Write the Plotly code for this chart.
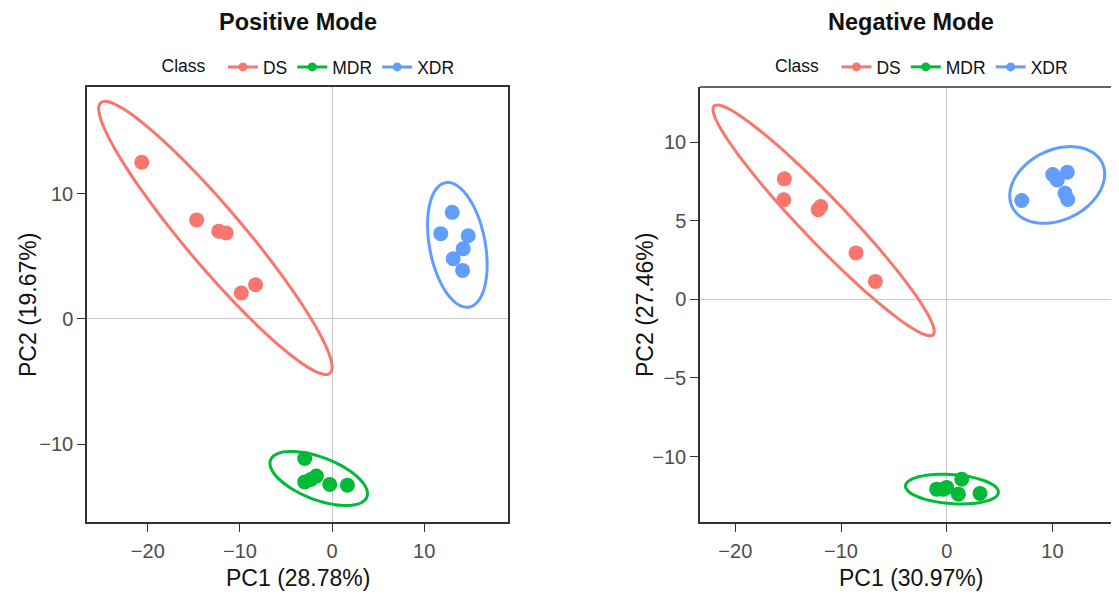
import numpy as np
import plotly.graph_objects as go

# ---------------- data ----------------
classes = ["DS", "MDR", "XDR"]
colors = {"DS": "#F8766D", "MDR": "#00BA38", "XDR": "#619CFF"}

pos_title = "Positive Mode"
pos_xlabel = "PC1 (28.78%)"
pos_ylabel = "PC2 (19.67%)"
pos_DS_pc1 = [-20.65, -14.7, -12.3, -11.5, -9.85, -8.3]
pos_DS_pc2 = [12.5, 7.9, 7.0, 6.85, 2.07, 2.73]
pos_MDR_pc1 = [-2.97, -2.97, -1.7, -2.3, -0.25, 1.67]
pos_MDR_pc2 = [-11.13, -13.0, -12.54, -12.8, -13.2, -13.26]
pos_XDR_pc1 = [13.04, 11.8, 14.78, 14.24, 13.15, 14.17]
pos_XDR_pc2 = [8.5, 6.8, 6.64, 5.6, 4.8, 3.87]

neg_title = "Negative Mode"
neg_xlabel = "PC1 (30.97%)"
neg_ylabel = "PC2 (27.46%)"
neg_DS_pc1 = [-15.36, -15.42, -12.15, -11.92, -8.58, -6.75]
neg_DS_pc2 = [7.66, 6.33, 5.7, 5.9, 2.95, 1.14]
neg_MDR_pc1 = [-0.95, -0.32, 0.0, 1.42, 1.1, 3.15]
neg_MDR_pc2 = [-12.07, -12.07, -11.96, -11.44, -12.39, -12.34]
neg_XDR_pc1 = [7.1, 10.03, 11.41, 10.46, 11.19, 11.45]
neg_XDR_pc2 = [6.28, 7.93, 8.08, 7.59, 6.75, 6.35]

pos_data = {"DS": (pos_DS_pc1, pos_DS_pc2), "MDR": (pos_MDR_pc1, pos_MDR_pc2),
            "XDR": (pos_XDR_pc1, pos_XDR_pc2)}
neg_data = {"DS": (neg_DS_pc1, neg_DS_pc2), "MDR": (neg_MDR_pc1, neg_MDR_pc2),
            "XDR": (neg_XDR_pc1, neg_XDR_pc2)}


# ---------------- stat_ellipse (type = "t", level = 0.95) ----------------
def cov_trob(x, nu=5, maxit=25, tol=0.01):
    n, p = x.shape
    wt = np.ones(n)
    loc = x.mean(0)
    w = np.sqrt(wt)
    X = x - loc
    for _ in range(maxit):
        w0 = w
        X = x - loc
        _, d, vt = np.linalg.svd(np.sqrt(wt / wt.sum())[:, None] * X, full_matrices=False)
        wX = X @ vt.T @ np.diag(1.0 / d)
        Q = (wX ** 2).sum(1)
        w = (wt * (nu + p)) / (nu + Q)
        loc = (w[:, None] * x).sum(0) / w.sum()
        if np.all(np.abs(w - w0) < tol):
            break
    sw = np.sqrt(w)[:, None] * X
    cov = sw.T @ sw / wt.sum()
    return cov, loc


def ellipse(xs, ys, level=0.95, segments=51):
    pts = np.column_stack([xs, ys]).astype(float)
    n = len(pts)
    cov, center = cov_trob(pts)
    dfd = n - 1
    qf = dfd / 2.0 * ((1 - level) ** (-2.0 / dfd) - 1)  # F quantile, dfn = 2
    radius = np.sqrt(2 * qf)
    U = np.linalg.cholesky(cov).T
    ang = np.arange(segments + 1) * 2 * np.pi / segments
    circ = np.column_stack([np.cos(ang), np.sin(ang)])
    e = center + radius * (circ @ U)
    return e[:, 0], e[:, 1]


# ---------------- layout geometry (page px; page has an 8px body margin) ----------------
OFF = 8
W, H = 1119 - OFF, 594 - OFF
mt = 87 - OFF
mb = H - (522 - OFF)
plot_h = H - mt - mb


def px(page_x):
    return (page_x - OFF) / W


def py(page_y):
    return (H - mb - (page_y - OFF)) / plot_h


dom_left = [px(87), px(508)]
dom_right = [px(700), 1.0]
left_center = px((87 + 508) / 2)
right_center = px((700 + 1122) / 2)

FONT = "Liberation Sans, Arial, Helvetica, sans-serif"

fig = go.Figure()

panels = [
    (pos_data, "x", "y", "legend"),
    (neg_data, "x2", "y2", "legend2"),
]

for data, xa, ya, lg in panels:
    for c in classes:
        xs, ys = data[c]
        ex, ey = ellipse(xs, ys)
        fig.add_trace(go.Scatter(x=ex, y=ey, mode="lines", xaxis=xa, yaxis=ya,
                                 line=dict(color=colors[c], width=3, shape="spline"),
                                 showlegend=False, hoverinfo="skip"))
        fig.add_trace(go.Scatter(x=xs, y=ys, mode="markers", xaxis=xa, yaxis=ya,
                                 marker=dict(color=colors[c], size=15),
                                 showlegend=False, name=c))
    for c in classes:
        fig.add_trace(go.Scatter(x=[None], y=[None], mode="lines+markers", xaxis=xa, yaxis=ya,
                                 line=dict(color=colors[c], width=3),
                                 marker=dict(color=colors[c], size=9),
                                 name=c, legend=lg, showlegend=True))

axis_common = dict(
    showgrid=False, zeroline=True, zerolinecolor="#c8c8c8", zerolinewidth=1,
    showline=True, linecolor="#333333", linewidth=1.5,
    ticks="outside", ticklen=8, tickcolor="#333333", tickwidth=1.3,
    tickfont=dict(family=FONT, size=20, color="#4d4d4d"),
    automargin=False,
)

fig.update_layout(
    width=W, height=H,
    margin=dict(l=0, r=0, t=mt, b=mb),
    plot_bgcolor="white", paper_bgcolor="white",
    xaxis=dict(domain=dom_left, range=[-26.6, 19.1], dtick=10, anchor="y", mirror=True,
               ticklabelstandoff=2, **axis_common),
    yaxis=dict(domain=[0, 1], range=[-16.2, 18.5], dtick=10, anchor="x", mirror=True,
               ticklabelstandoff=0, **axis_common),
    xaxis2=dict(domain=dom_right, range=[-23.34, 16.3], dtick=10, anchor="y2",
                ticklabelstandoff=2, **axis_common),
    yaxis2=dict(domain=[0, 1], range=[-14.16, 13.5], dtick=5, anchor="x2",
                ticklabelstandoff=0, **axis_common),
    showlegend=True,
)

legend_common = dict(
    orientation="h", xanchor="center", yanchor="middle", y=py(67),
    font=dict(family=FONT, size=17.5, color="#111111"),
    title=dict(text="Class  ", side="left", font=dict(family=FONT, size=17.5, color="#111111")),
    bgcolor="rgba(0,0,0,0)", itemwidth=30, tracegroupgap=0,
)
fig.update_layout(
    legend=dict(x=left_center + 12 / W, **legend_common),
    legend2=dict(x=right_center + 12 / W, **legend_common),
)

title_font = dict(family=FONT, size=23, color="#111111")
for cx, title, xlab, ylab, ylab_x in [
    (left_center, pos_title, pos_xlabel, pos_ylabel, px(28)),
    (right_center, neg_title, neg_xlabel, neg_ylabel, px(645)),
]:
    fig.add_annotation(text="<b>%s</b>" % title, xref="paper", yref="paper",
                       x=cx, y=py(22), xanchor="center", yanchor="middle",
                       showarrow=False, font=dict(family=FONT, size=23.5, color="#111111"))
    fig.add_annotation(text=xlab, xref="paper", yref="paper",
                       x=cx, y=py(578), xanchor="center", yanchor="middle",
                       showarrow=False, font=title_font)
    fig.add_annotation(text=ylab, xref="paper", yref="paper", textangle=-90,
                       x=ylab_x, y=py(305), xanchor="center", yanchor="middle",
                       showarrow=False, font=title_font)

# top border of right panel (its right border lies outside the picture)
fig.add_shape(type="line", xref="x2 domain", yref="y2 domain", x0=0, x1=1, y0=1, y1=1,
              line=dict(color="#333333", width=1.5))

fig.write_html("out.html")
